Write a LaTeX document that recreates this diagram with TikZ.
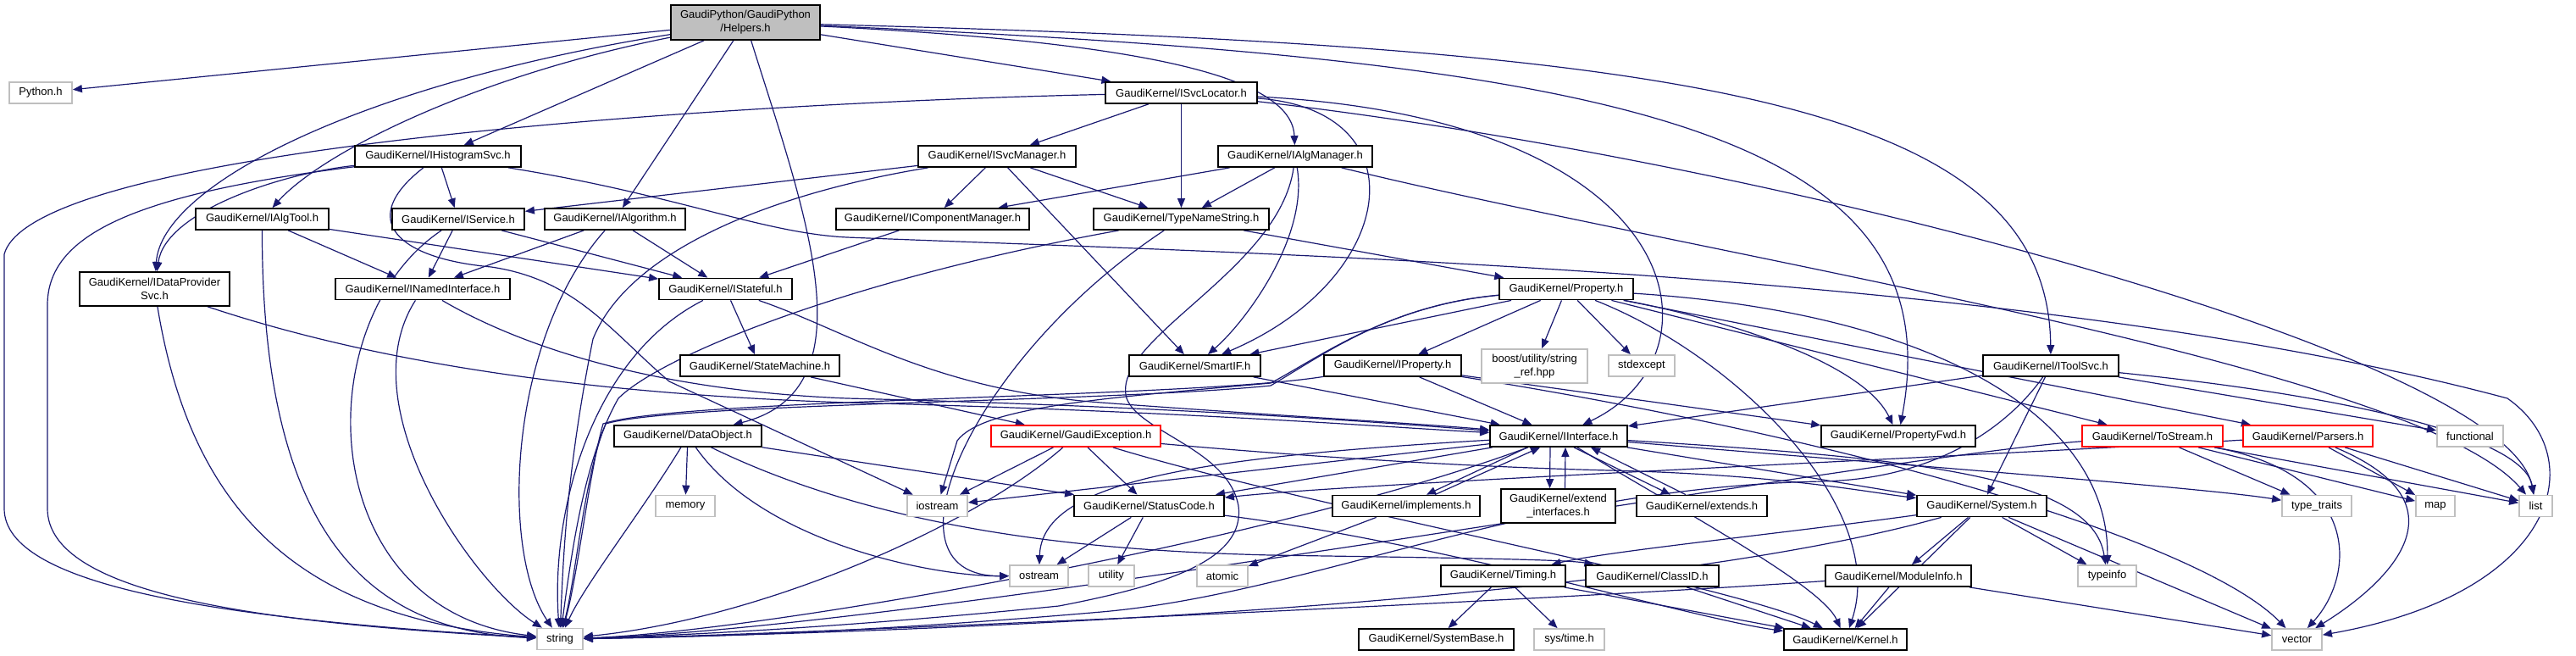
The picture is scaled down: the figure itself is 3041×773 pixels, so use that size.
\documentclass[tikz,border=0pt]{standalone}
\usepackage{fontspec}
\setmainfont{Liberation Sans}
\usetikzlibrary{arrows.meta,calc}
\pgfdeclarelayer{edges}
\pgfsetlayers{edges,main}
\definecolor{edgeblue}{HTML}{191970}
\definecolor{sysgray}{HTML}{BFBFBF}
\tikzset{
	hdr/.style={draw=black, line width=0.9pt, fill=white, inner sep=0pt,
			minimum height=12.5pt, align=center, font=\fontsize{6.5}{8}\selectfont},
	extrn/.style={hdr, draw=sysgray},
	trunc/.style={hdr, draw=red},
	inc/.style={draw=edgeblue, line width=0.6pt, -{Triangle[length=5.5pt,width=4.5pt]}}
}

\begin{document}
\begin{tikzpicture}[x=0.5pt,y=-0.5pt]
		\useasboundingbox (0,0) rectangle (3041,773);

		% Header files
		\node[hdr, fill=sysgray, minimum width=88pt, minimum height=20.5pt] (helpers) at (880,26.5) {GaudiPython/GaudiPython\\/Helpers.h};
		\node[extrn, minimum width=37pt] (python) at (48,109.5) {Python.h};
		\node[hdr, minimum width=89.5pt] (svcloc) at (1394.5,109.5) {GaudiKernel/ISvcLocator.h};
		\node[hdr, minimum width=98pt] (histsvc) at (517,184.5) {GaudiKernel/IHistogramSvc.h};
		\node[hdr, minimum width=93pt] (svcmgr) at (1177,184.5) {GaudiKernel/ISvcManager.h};
		\node[hdr, minimum width=91pt] (algmgr) at (1529,184.5) {GaudiKernel/IAlgManager.h};
		\node[hdr, minimum width=78.5pt] (algtool) at (309.5,258.5) {GaudiKernel/IAlgTool.h};
		\node[hdr, minimum width=78pt] (service) at (541,258.5) {GaudiKernel/IService.h};
		\node[hdr, minimum width=83pt] (algorithm) at (726,258.5) {GaudiKernel/IAlgorithm.h};
		\node[hdr, minimum width=114pt] (compmgr) at (1101,258.5) {GaudiKernel/IComponentManager.h};
		\node[hdr, minimum width=103.5pt] (typename) at (1394.5,258.5) {GaudiKernel/TypeNameString.h};
		\node[hdr, minimum width=88.5pt, minimum height=20pt] (dataprov) at (182.5,341) {GaudiKernel/IDataProvider\\Svc.h};
		\node[hdr, minimum width=103pt] (named) at (499,341) {GaudiKernel/INamedInterface.h};
		\node[hdr, minimum width=78.5pt] (stateful) at (856.5,341) {GaudiKernel/IStateful.h};
		\node[hdr, minimum width=79pt] (property) at (1849,341) {GaudiKernel/Property.h};
		\node[hdr, minimum width=94pt] (statemach) at (897,431.5) {GaudiKernel/StateMachine.h};
		\node[hdr, minimum width=77.5pt] (smartif) at (1410.5,431.5) {GaudiKernel/SmartIF.h};
		\node[hdr, minimum width=81pt] (iprop) at (1644,431.5) {GaudiKernel/IProperty.h};
		\node[extrn, minimum width=62.5pt, minimum height=20pt] (boost) at (1811.5,432) {boost/utility/string\\\_ref.hpp};
		\node[extrn, minimum width=39pt] (stdexc) at (1938,431.5) {stdexcept};
		\node[hdr, minimum width=80pt] (toolsvc) at (2421,431.5) {GaudiKernel/IToolSvc.h};
		\node[hdr, minimum width=87pt] (dataobj) at (812,514.5) {GaudiKernel/DataObject.h};
		\node[trunc, minimum width=100pt] (gexc) at (1270,514.5) {GaudiKernel/GaudiException.h};
		\node[hdr, minimum width=81pt] (iface) at (1840,514.5) {GaudiKernel/IInterface.h};
		\node[hdr, minimum width=91pt] (propfwd) at (2241,514.5) {GaudiKernel/PropertyFwd.h};
		\node[trunc, minimum width=83pt] (tostream) at (2541,514.5) {GaudiKernel/ToStream.h};
		\node[trunc, minimum width=76.5pt] (parsers) at (2724.5,514.5) {GaudiKernel/Parsers.h};
		\node[extrn, minimum width=39pt] (functional) at (2916,514.5) {functional};
		\node[extrn, minimum width=35pt] (memory) at (809,597) {memory};
		\node[extrn, minimum width=35.5pt] (iostream) at (1106.5,597) {iostream};
		\node[hdr, minimum width=88.5pt] (statcode) at (1356.5,597) {GaudiKernel/StatusCode.h};
		\node[hdr, minimum width=87pt] (impl) at (1660,597) {GaudiKernel/implements.h};
		\node[hdr, minimum width=67.5pt, minimum height=20pt] (extif) at (1839.5,597) {GaudiKernel/extend\\\_interfaces.h};
		\node[hdr, minimum width=77pt] (extends) at (2009,597) {GaudiKernel/extends.h};
		\node[hdr, minimum width=76.5pt] (system) at (2339.5,597) {GaudiKernel/System.h};
		\node[extrn, minimum width=41pt] (typetraits) at (2735,597) {type\_traits};
		\node[extrn, minimum width=23pt] (map) at (2875,597) {map};
		\node[extrn, minimum width=19.5pt] (list) at (2993.5,597) {list};
		\node[extrn, minimum width=34.5pt] (ostream) at (1226.5,679.5) {ostream};
		\node[extrn, minimum width=27pt] (utility) at (1312,679.5) {utility};
		\node[extrn, minimum width=30pt] (atomic) at (1443,679.5) {atomic};
		\node[hdr, minimum width=73.5pt] (timing) at (1774.5,679.5) {GaudiKernel/Timing.h};
		\node[hdr, minimum width=78.5pt] (classid) at (1950.5,679.5) {GaudiKernel/ClassID.h};
		\node[hdr, minimum width=86pt] (modinfo) at (2241,679.5) {GaudiKernel/ModuleInfo.h};
		\node[extrn, minimum width=34.5pt] (typeinfo) at (2487.5,679.5) {typeinfo};
		\node[extrn, minimum width=27pt] (string) at (661,754) {string};
		\node[hdr, minimum width=91.5pt] (sysbase) at (1695.5,754.5) {GaudiKernel/SystemBase.h};
		\node[extrn, minimum width=41.5pt] (systime) at (1852.5,754.5) {sys/time.h};
		\node[hdr, minimum width=72.5pt] (kernel) at (2178.5,754.5) {GaudiKernel/Kernel.h};
		\node[extrn, minimum width=29.5pt] (vector) at (2711.5,754.5) {vector};

		\begin{pgfonlayer}{edges}
		% Helpers.h
		\draw[inc] (helpers) -- (python);
		\draw[inc] (helpers) -- (histsvc);
		\draw[inc] (helpers) .. controls (560,90) and (380,180) .. (algtool);
		\draw[inc] (helpers) .. controls (420,100) and (190,220) .. (dataprov);
		\draw[inc] (helpers) -- (algorithm);
		\draw[inc] (helpers) .. controls (950,250) and (1030,460) .. (dataobj);
		\draw[inc] (helpers) -- (svcloc);
		\draw[inc] (helpers) .. controls (1350,50) and (1525,90) .. (algmgr);
		\draw[inc] (helpers) .. controls (2000,55) and (2418,120) .. (toolsvc);
		\draw[inc] (helpers) .. controls (1900,70) and (2310,150) .. (propfwd);

		% ISvcLocator.h
		\draw[inc] (svcloc) .. controls (900,120) and (40,170) .. (5,300) -- (5,600) .. controls (5,690) and (250,730) .. (string);
		\draw[inc] (svcloc) -- (svcmgr);
		\draw[inc] (svcloc) -- (typename);
		\draw[inc] (svcloc) .. controls (1680,130) and (1650,330) .. (smartif);
		\draw[inc] (svcloc) .. controls (2000,140) and (2040,420) .. (iface);
		\draw[inc] (svcloc) .. controls (2100,190) and (2960,420) .. (list);

		% IHistogramSvc.h
		\draw[inc] (histsvc) .. controls (330,205) and (195,250) .. (dataprov);
		\draw[inc] (histsvc) .. controls (150,230) and (56,280) .. (56,360) -- (56,600) .. controls (56,700) and (300,735) .. (string);
		\draw[inc] (histsvc) -- (service);
		\draw[inc] (histsvc) .. controls (420,260) and (470,305) .. (580,315) .. controls (680,330) and (720,390) .. (790,450) -- (iostream);
		\draw[inc] (histsvc) .. controls (800,230) and (900,275) .. (1000,280) .. controls (1500,300) and (2400,320) .. (2960,470) .. controls (3060,540) and (3020,700) .. (vector);

		% ISvcManager.h and IAlgManager.h
		\draw[inc] (svcmgr) -- (service);
		\draw[inc] (svcmgr) .. controls (900,230) and (740,300) .. (700,400) .. controls (670,550) and (665,650) .. (string);
		\draw[inc] (svcmgr) -- (compmgr);
		\draw[inc] (svcmgr) -- (typename);
		\draw[inc] (svcmgr) -- (smartif);
		\draw[inc] (algmgr) -- (compmgr);
		\draw[inc] (algmgr) -- (typename);
		\draw[inc] (algmgr) .. controls (1545,280) and (1470,380) .. (smartif);
		\draw[inc] (algmgr) .. controls (1510,320) and (1310,400) .. (1330,470) .. controls (1345,510) and (1450,530) .. (1462,597) .. controls (1470,660) and (1380,690) .. (1250,715) .. controls (1000,740) and (800,750) .. (string);
		\draw[inc] (algmgr) .. controls (2000,300) and (2850,430) .. (list);

		% IAlgTool.h, IService.h, IAlgorithm.h
		\draw[inc] (algtool) -- (named);
		\draw[inc] (algtool) -- (stateful);
		\draw[inc] (algtool) .. controls (309,650) and (450,745) .. (string);
		\draw[inc] (service) -- (named);
		\draw[inc] (service) -- (stateful);
		\draw[inc] (service) .. controls (360,380) and (370,720) .. (string);
		\draw[inc] (algorithm) -- (named);
		\draw[inc] (algorithm) -- (stateful);
		\draw[inc] (algorithm) .. controls (600,400) and (590,650) .. (string);
		\draw[inc] (compmgr) -- (stateful);

		% TypeNameString.h
		\draw[inc] (typename) .. controls (1000,330) and (780,420) .. (730,470) .. controls (690,540) and (675,650) .. (string);
		\draw[inc] (typename) .. controls (1150,420) and (1030,680) .. (ostream);
		\draw[inc] (typename) -- (property);

		% IDataProviderSvc.h, INamedInterface.h, IStateful.h
		\draw[inc] (dataprov) .. controls (225,600) and (350,730) .. (string);
		\draw[inc] (dataprov) .. controls (450,430) and (700,465) .. (1000,475) .. controls (1400,485) and (1650,505) .. (iface);
		\draw[inc] (named) .. controls (410,480) and (560,690) .. (string);
		\draw[inc] (named) .. controls (600,400) and (750,460) .. (1000,470) .. controls (1400,480) and (1650,500) .. (iface);
		\draw[inc] (stateful) .. controls (700,420) and (650,600) .. (string);
		\draw[inc] (stateful) -- (statemach);
		\draw[inc] (stateful) .. controls (1000,390) and (1100,460) .. (1300,475) .. controls (1500,490) and (1680,500) .. (iface);
		\draw[inc] (statemach) -- (gexc);

		% Property.h
		\draw[inc] (property) -- (smartif);
		\draw[inc] (property) .. controls (1640,360) and (1560,420) .. (1500,455) .. controls (1300,475) and (800,475) .. (715,500) .. controls (690,560) and (680,680) .. (string);
		\draw[inc] (property) .. controls (1640,360) and (1560,420) .. (1500,452) .. controls (1300,470) and (1160,480) .. (1130,520) -- (iostream);
		\draw[inc] (property) -- (iprop);
		\draw[inc] (property) -- (boost);
		\draw[inc] (property) -- (stdexc);
		\draw[inc] (property) .. controls (2050,420) and (2230,600) .. (kernel);
		\draw[inc] (property) .. controls (2050,380) and (2200,430) .. (propfwd);
		\draw[inc] (property) -- (tostream);
		\draw[inc] (property) -- (parsers);
		\draw[inc] (property) .. controls (2300,370) and (2490,500) .. (typeinfo);

		% IProperty.h, SmartIF.h, IToolSvc.h
		\draw[inc] (iprop) -- (iface);
		\draw[inc] (iprop) -- (propfwd);
		\draw[inc] (iprop) .. controls (1400,470) and (800,470) .. (712,500) .. controls (695,560) and (682,680) .. (string);
		\draw[inc] (iprop) .. controls (2200,520) and (2600,640) .. (vector);
		\draw[inc] (smartif) -- (iface);
		\draw[inc] (toolsvc) -- (iface);
		\draw[inc] (toolsvc) -- (system);
		\draw[inc] (toolsvc) -- (functional);
		\draw[inc] (toolsvc) .. controls (2800,470) and (2980,520) .. (list);
		\draw[inc] (toolsvc) .. controls (2380,490) and (2300,565) .. (2150,568) .. controls (1800,575) and (1550,700) .. (1300,722) .. controls (1000,748) and (800,752) .. (string);

		% DataObject.h, GaudiException.h
		\draw[inc] (dataobj) -- (memory);
		\draw[inc] (dataobj) .. controls (760,600) and (690,690) .. (string);
		\draw[inc] (dataobj) .. controls (900,640) and (1100,680) .. (ostream);
		\draw[inc] (dataobj) -- (statcode);
		\draw[inc] (dataobj) .. controls (1050,630) and (1300,650) .. (1500,655) .. controls (1700,658) and (1850,660) .. (classid);
		\draw[inc] (gexc) -- (iostream);
		\draw[inc] (gexc) .. controls (1150,620) and (900,730) .. (string);
		\draw[inc] (gexc) -- (statcode);
		\draw[inc] (gexc) .. controls (1550,600) and (2050,690) .. (kernel);
		\draw[inc] (gexc) .. controls (1500,535) and (1700,550) .. (1900,555) .. controls (2100,560) and (2200,580) .. (system);

		% IInterface.h
		\draw[inc] ($(iface.south)+(-37,0)$) -- ($(impl.north)+(24,0)$);
		\draw[inc] ($(impl.north)+(34,0)$) -- ($(iface.south)+(-22,0)$);
		\draw[inc] ($(iface.south)+(-10,0)$) -- ($(extif.north)+(-10,0)$);
		\draw[inc] ($(extif.north)+(8,0)$) -- ($(iface.south)+(8,0)$);
		\draw[inc] ($(iface.south)+(18,0)$) -- ($(extends.north)+(-37,0)$);
		\draw[inc] ($(extends.north)+(-19,0)$) -- ($(iface.south)+(38,0)$);
		\draw[inc] (iface) -- (statcode);
		\draw[inc] (iface) -- (system);
		\draw[inc] (iface) .. controls (1980,600) and (2150,690) .. (kernel);
		\draw[inc] (iface) .. controls (1400,540) and (1230,570) .. (ostream);
		\draw[inc] (iface) -- (iostream);
		\draw[inc] (iface) .. controls (2250,540) and (2470,560) .. (typeinfo);
		\draw[inc] (iface) .. controls (2200,545) and (2600,575) .. (typetraits);
		\draw[inc] (iface) .. controls (1500,640) and (900,745) .. (string);
		\draw[inc] (impl) -- (atomic);

		% System.h, Timing.h, ModuleInfo.h, StatusCode.h
		\draw[inc] (system) -- (modinfo);
		\draw[inc] (system) .. controls (2100,630) and (1900,650) .. (timing);
		\draw[inc] (system) -- (kernel);
		\draw[inc] (system) .. controls (1900,720) and (1000,748) .. (string);
		\draw[inc] (system) -- (vector);
		\draw[inc] (system) -- (typeinfo);
		\draw[inc] (timing) -- (sysbase);
		\draw[inc] (timing) -- (systime);
		\draw[inc] (timing) -- (kernel);
		\draw[inc] (classid) -- (kernel);
		\draw[inc] (modinfo) -- (kernel);
		\draw[inc] (modinfo) -- (vector);
		\draw[inc] (modinfo) .. controls (1800,710) and (900,750) .. (string);
		\draw[inc] (statcode) -- (ostream);
		\draw[inc] (statcode) -- (utility);
		\draw[inc] (statcode) .. controls (1700,640) and (2000,730) .. (kernel);

		% ToStream.h, Parsers.h
		\draw[inc] (tostream) -- (list);
		\draw[inc] (tostream) -- (map);
		\draw[inc] (tostream) -- (typetraits);
		\draw[inc] (tostream) .. controls (2790,560) and (2780,680) .. (vector);
		\draw[inc] (tostream) .. controls (2200,540) and (1100,740) .. (string);
		\draw[inc] (parsers) -- (list);
		\draw[inc] (parsers) -- (map);
		\draw[inc] (parsers) .. controls (2930,600) and (2800,700) .. (vector);
		\draw[inc] (parsers) .. controls (2300,540) and (1600,570) .. (statcode);
		\end{pgfonlayer}
	\end{tikzpicture}
\end{document}
